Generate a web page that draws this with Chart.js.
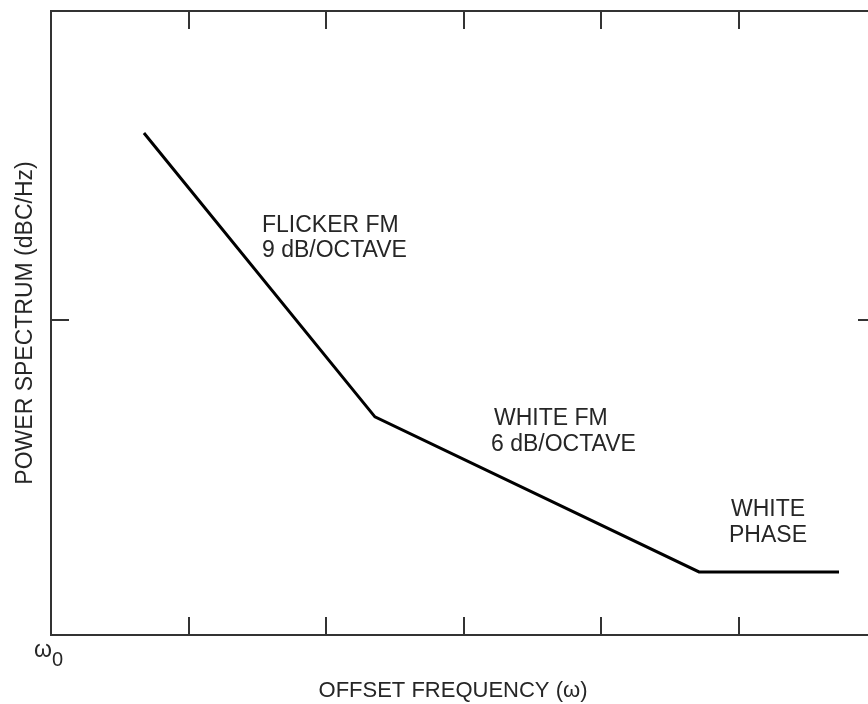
<!DOCTYPE html>
<html lang="en">
<head>
<meta charset="utf-8">
<script src="https://cdn.jsdelivr.net/npm/chart.js@4.4.1/dist/chart.umd.min.js"></script>
<style>
    html, body { margin: 0; padding: 0; background: #fff; overflow: hidden; }
    #wrap { width: 880px; height: 704px; }
</style>
</head>
<body>
<div id="wrap">
    <canvas id="content" width="880" height="704"></canvas>
</div>
<script>
    // offset frequency (octave-ish units from w0) and power spectrum level
    var freq = [0.676, 2.356, 4.713, 5.731];
    var power = [1.593, 0.692, 0.200, 0.200];
    var xTicks = [1, 2, 3, 4, 5];
    var yTicks = [1];

    var INK = '#262626';
    var FONT = '"Liberation Sans", Arial, sans-serif';

    var framePlugin = {
        id: 'frame',
        beforeDatasetsDraw: function (chart) {
            var c = chart.ctx, a = chart.chartArea;
            var sx = chart.scales.x, sy = chart.scales.y;
            var len = 18;
            c.save();
            c.strokeStyle = '#333';
            c.lineWidth = 2;
            c.strokeRect(a.left, a.top, a.right - a.left, a.bottom - a.top);
            c.beginPath();
            xTicks.forEach(function (v) {
                var px = Math.round(sx.getPixelForValue(v));
                c.moveTo(px, a.bottom); c.lineTo(px, a.bottom - len);
                c.moveTo(px, a.top); c.lineTo(px, a.top + len);
            });
            yTicks.forEach(function (v) {
                var py = Math.round(sy.getPixelForValue(v));
                c.moveTo(a.left, py); c.lineTo(a.left + len, py);
                c.moveTo(a.right, py); c.lineTo(a.right - len, py);
            });
            c.stroke();
            c.restore();
        },
        afterDraw: function (chart) {
            var c = chart.ctx;
            c.save();
            c.fillStyle = INK;
            c.font = '23px ' + FONT;
            c.textBaseline = 'alphabetic';

            c.textAlign = 'left';
            c.fillText('FLICKER FM', 262, 232);
            c.fillText('9 dB/OCTAVE', 262, 257);
            c.fillText('WHITE FM', 494, 425);
            c.fillText('6 dB/OCTAVE', 491, 451);

            c.textAlign = 'center';
            c.fillText('WHITE', 768, 516);
            c.fillText('PHASE', 768, 542);

            c.font = '22px ' + FONT;
            c.fillText('OFFSET FREQUENCY (\u03c9)', 453, 697);

            // y axis title
            c.font = '23px ' + FONT;
            c.save();
            c.translate(32, 323);
            c.rotate(-Math.PI / 2);
            c.fillText('POWER SPECTRUM (dBC/Hz)', 0, 0);
            c.restore();

            // origin label
            c.textAlign = 'left';
            c.fillText('\u03c9', 34, 657);
            c.font = '20px ' + FONT;
            c.fillText('0', 52, 666);
            c.restore();
        }
    };

    var ctx = document.getElementById('content').getContext('2d');
    new Chart(ctx, {
        type: 'line',
        data: {
            datasets: [{
                data: freq.map(function (f, i) { return { x: f, y: power[i] }; }),
                borderColor: '#000',
                borderWidth: 3,
                pointRadius: 0,
                tension: 0,
                fill: false
            }]
        },
        options: {
            responsive: false,
            animation: false,
            devicePixelRatio: 1,
            layout: { padding: { left: 51, top: 11, right: 4, bottom: 69 } },
            plugins: { legend: { display: false }, tooltip: { enabled: false } },
            scales: {
                x: { type: 'linear', min: 0, max: 6, display: false },
                y: { type: 'linear', min: 0, max: 1.98, display: false }
            }
        },
        plugins: [framePlugin]
    });
</script>
</body>
</html>
